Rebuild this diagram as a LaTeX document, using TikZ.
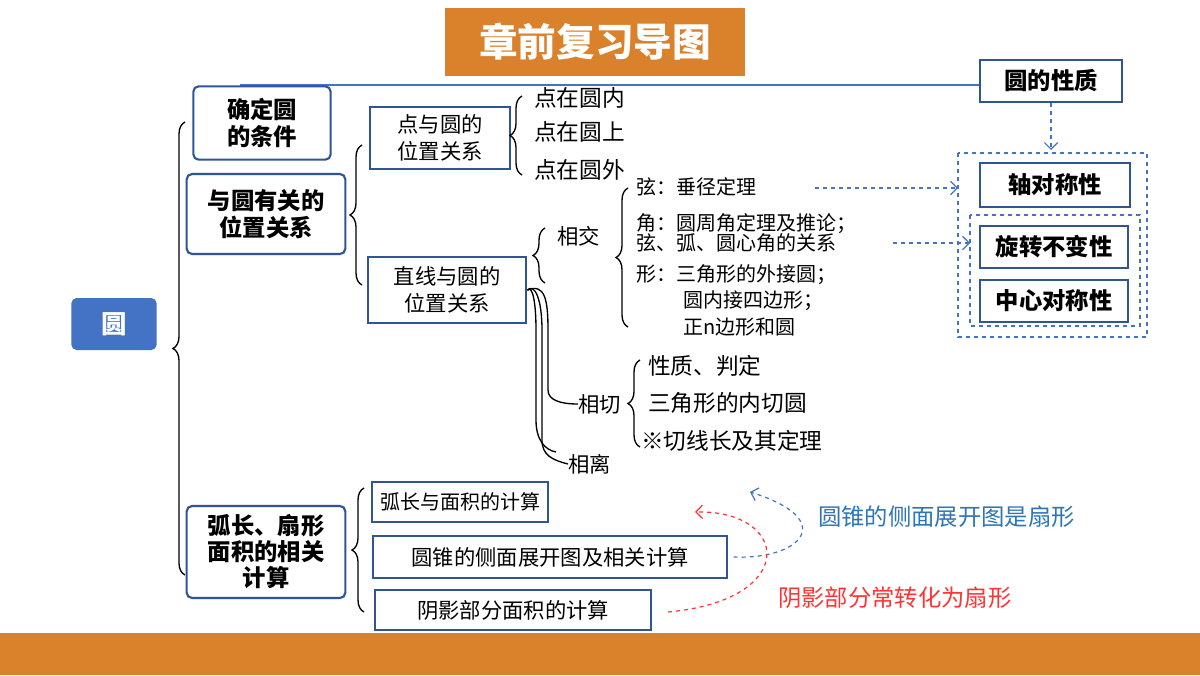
\documentclass[tikz,border=0pt]{standalone}
\usepackage{fontspec}
\setmainfont{Noto Sans CJK SC}
\usetikzlibrary{decorations.pathreplacing,arrows.meta}
\definecolor{org}{HTML}{D9822B}
\definecolor{bl}{HTML}{2F5597}
\definecolor{bfill}{HTML}{4472C4}
\definecolor{tblue}{HTML}{2E75B6}
\definecolor{tred}{HTML}{FF3333}
\begin{document}
\begin{tikzpicture}[x=0.75pt,y=-0.75pt,
 box/.style={draw=bl,line width=1.6pt,fill=white,inner sep=0pt,font=\bfseries\fontsize{17.5}{20}\selectfont,align=center},
 rbox/.style={box,rounded corners=4pt},
 lab/.style={anchor=west,inner sep=0pt,font=\fontsize{17}{19}\selectfont},
 sm/.style={anchor=west,inner sep=0pt,font=\fontsize{15}{17}\selectfont},
 bb/.style={box,minimum height=30pt,font=\fontsize{16}{19}\selectfont},
 br/.style={decorate,decoration={brace,amplitude=9pt,raise=0pt},line width=1pt},
 dsh/.style={draw=bfill,dashed,line width=0.9pt},
 darr/.style={dsh,-{Straight Barb[length=5pt]}}]
\useasboundingbox (0,0) rectangle (1200,675);
\fill[white] (0,0) rectangle (1200,675);
\fill[org] (0,633) rectangle (1200,675);
\node[fill=org,minimum width=225pt,minimum height=51pt,inner sep=0pt,text=white,font=\bfseries\fontsize{29}{32}\selectfont] (title) at (595,42) {章前复习导图};
% right property
\node[box,minimum width=106pt,minimum height=31pt] (xz) at (1051,81) {圆的性质};
\coordinate (l0) at (240,85);
\draw[bfill,line width=1pt] (l0) -- (xz.west|-l0);
\draw[dsh] (958,153) rectangle (1147,337);
\draw[dsh] (970,215) rectangle (1140,326);
\node[box,minimum width=112pt,minimum height=33pt] (zd) at (1055,185) {轴对称性};
\node[box,minimum width=111pt,minimum height=31pt] (xb) at (1054,247) {旋转不变性};
\node[box,minimum width=111pt,minimum height=31pt] (zx) at (1054,301) {中心对称性};
\coordinate (ob) at (1051,150);
\draw[darr] (xz.south) -- (ob);
% root
\node[fill=bfill,rounded corners=4pt,minimum width=64pt,minimum height=39pt,text=white,font=\bfseries\fontsize{19}{21}\selectfont] (yuan) at (114,324) {圆};
\draw[br] (185,575) -- (185,122);
\node[rbox,minimum width=103pt,minimum height=55pt] (qd) at (262,123) {确定圆\\的条件};
\node[rbox,minimum width=119pt,minimum height=60pt] (wz) at (266,214) {与圆有关的\\位置关系};
\node[rbox,minimum width=119pt,minimum height=69pt,font=\bfseries\fontsize{17.5}{19.5}\selectfont] (hc) at (266,552) {弧长、扇形\\面积的相关\\计算};
% position
\draw[br] (362,285) -- (362,145);
\node[box,minimum width=105pt,minimum height=47pt,font=\fontsize{16}{20}\selectfont] (dy) at (440,138) {点与圆的\\位置关系};
\node[box,minimum width=119pt,minimum height=49pt,font=\fontsize{16}{20}\selectfont] (zx2) at (447,290) {直线与圆的\\位置关系};
\draw[br] (522,175) -- (522,96);
\node[lab] (p1) at (534,98) {点在圆内};
\node[lab] (p2) at (534,132) {点在圆上};
\node[lab] (p3) at (534,170) {点在圆外};
% lines
\draw[br] (545,283) -- (545,228);
\node[lab,font=\fontsize{16}{18}\selectfont] (xj) at (557,236) {相交};
\draw[br] (628,327) -- (628,188);
\node[sm] (a1) at (636,187) {弦：垂径定理};
\node[sm] (a2) at (636,224) {角：圆周角定理及推论；};
\node[sm] (a3) at (636,243) {弦、弧、圆心角的关系};
\node[sm] (a4) at (636,275) {形：三角形的外接圆；};
\node[sm] (a5) at (683,301) {圆内接四边形；};
\node[sm] (a6) at (683,327) {正\textit{n}边形和圆};
\node[lab,font=\fontsize{16}{18}\selectfont] (xq) at (578,404) {相切};
\node[lab,font=\fontsize{16}{18}\selectfont] (xl) at (568,464) {相离};
\draw[line width=1pt] (zx2.east) .. controls (545,283) and (548,300) .. (548,330) -- (548,390) .. controls (548,400) and (560,404) .. (xq.west);
\draw[line width=1pt] (zx2.east) .. controls (535,283) and (542,300) .. (542,330) -- (542,440) .. controls (542,455) and (552,460) .. (xl.west);
\draw[line width=1pt] (zx2.east) .. controls (532,285) and (536,300) .. (536,330) -- (536,420) .. controls (536,440) and (545,450) .. (556,452);
\draw[br] (640,447) -- (640,360);
\node[lab] (t1) at (648,366) {性质、判定};
\node[lab] (t2) at (648,403) {三角形的内切圆};
\node[lab] (t3) at (641,441) {※切线长及其定理};
\coordinate (e1) at (815,188); \coordinate (e2) at (893,243);
\coordinate (f1) at (958,188); \coordinate (f2) at (970,243);
\draw[darr] (e1) -- (f1);
\draw[darr] (e2) -- (f2);
% bottom
\draw[br] (364,612) -- (364,488);
\node[bb,minimum width=132pt,font=\fontsize{15}{19}\selectfont] (b1) at (460,502) {弧长与面积的计算};
\node[bb,minimum width=266pt,minimum height=31pt] (b2) at (550,557) {圆锥的侧面展开图及相关计算};
\node[bb,minimum width=207pt] (b3) at (513,610) {阴影部分面积的计算};
\node[anchor=west,inner sep=0pt,text=tblue,font=\fontsize{17.5}{19}\selectfont] (n1) at (818,517) {圆锥的侧面展开图是扇形};
\node[anchor=west,inner sep=0pt,text=tred,font=\fontsize{17.5}{19}\selectfont] (n2) at (778,598) {阴影部分常转化为扇形};
\coordinate (c1) at (750,492); \coordinate (c2) at (695,512); \coordinate (c0) at (668,612);
\draw[darr] ([xshift=4pt]b2.east) .. controls (800,560) and (840,520) .. (c1);
\draw[dashed,draw=tred,line width=0.9pt,-{Straight Barb[length=5pt]}] (c0) .. controls (800,600) and (790,510) .. (c2);
\end{tikzpicture}
\end{document}
